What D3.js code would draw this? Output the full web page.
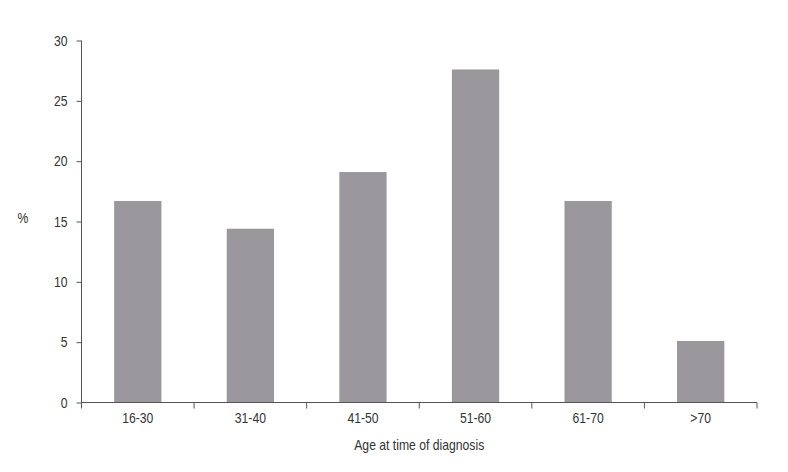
<!DOCTYPE html>
<html>
<head>
<meta charset="utf-8">
<script src="https://cdn.jsdelivr.net/npm/d3@7"></script>
<style>
  body { margin: 0; background: #fff; }
  text { font-family: "Liberation Sans", Arial, sans-serif; fill: #333; }
</style>
</head>
<body>
<div id="chart"></div>
<script>
const categories = ['16-30', '31-40', '41-50', '51-60', '61-70', '>70']
const percents = [16.7, 14.4, 19.1, 27.6, 16.7, 5.1]
const yTicks = [0, 5, 10, 15, 20, 25, 30]

const width = 788, height = 472
const margin = {top: 40.5, right: 31, bottom: 69.5, left: 81.5}
const visW = width - margin.left - margin.right
const visH = height - margin.top - margin.bottom
const fontSize = 14.5

const svg = d3.select('#chart').append('svg')
  .attr('width', width)
  .attr('height', height)

const g = svg.append('g').attr('transform', `translate(${margin.left},${margin.top})`)

const x = d3.scaleBand()
  .domain(categories)
  .range([0, visW])
  .paddingInner(0.58)
  .paddingOuter(0.29)

const xAxisScale = d3.scaleBand().domain(categories).range([0, visW])

const y = d3.scaleLinear()
  .domain([0, 30])
  .range([visH, 0])

g.selectAll('rect.bar')
  .data(percents)
  .join('rect')
  .attr('class', 'bar')
  .attr('x', (d, i) => x(categories[i]))
  .attr('width', x.bandwidth())
  .attr('y', d => y(d))
  .attr('height', d => visH - y(d))
  .attr('fill', '#9b989d')

// y axis
const yAxis = g.append('g')
  .call(d3.axisLeft(y).tickValues(yTicks).tickSize(5).tickPadding(9))
yAxis.select('.domain').attr('stroke', '#555').attr('d', `M0,0V${visH}`)
yAxis.selectAll('.tick line').attr('stroke', '#555')
yAxis.selectAll('.tick text').attr('font-size', fontSize).attr('fill', '#333')
  .style('font-family', '"Liberation Sans", Arial, sans-serif')

// x axis with boundary ticks
const xg = g.append('g').attr('transform', `translate(0,${visH})`)
xg.append('line')
  .attr('x1', 0).attr('x2', visW)
  .attr('stroke', '#555')
const bounds = [0].concat(categories.map(c => xAxisScale(c) + xAxisScale.bandwidth()))
xg.selectAll('line.btick')
  .data(bounds)
  .join('line')
  .attr('class', 'btick')
  .attr('x1', d => d).attr('x2', d => d)
  .attr('y1', 0).attr('y2', 6)
  .attr('stroke', '#555')
xg.selectAll('text.xl')
  .data(categories)
  .join('text')
  .attr('class', 'xl')
  .attr('x', d => xAxisScale(d) + xAxisScale.bandwidth() / 2)
  .attr('y', 20)
  .attr('text-anchor', 'middle')
  .attr('font-size', fontSize)
  .text(d => d)

svg.append('text')
  .attr('x', margin.left + visW / 2)
  .attr('y', 450)
  .attr('text-anchor', 'middle')
  .attr('font-size', fontSize)
  .text('Age at time of diagnosis')

svg.append('text')
  .attr('x', 23)
  .attr('y', 223)
  .attr('text-anchor', 'middle')
  .attr('font-size', fontSize)
  .text('%')

// the source font is a narrow sans, squeeze glyphs a little
svg.selectAll('text').each(function () {
  const w = this.getComputedTextLength()
  d3.select(this).attr('textLength', w * 0.84).attr('lengthAdjust', 'spacingAndGlyphs')
})
</script>
</body>
</html>
